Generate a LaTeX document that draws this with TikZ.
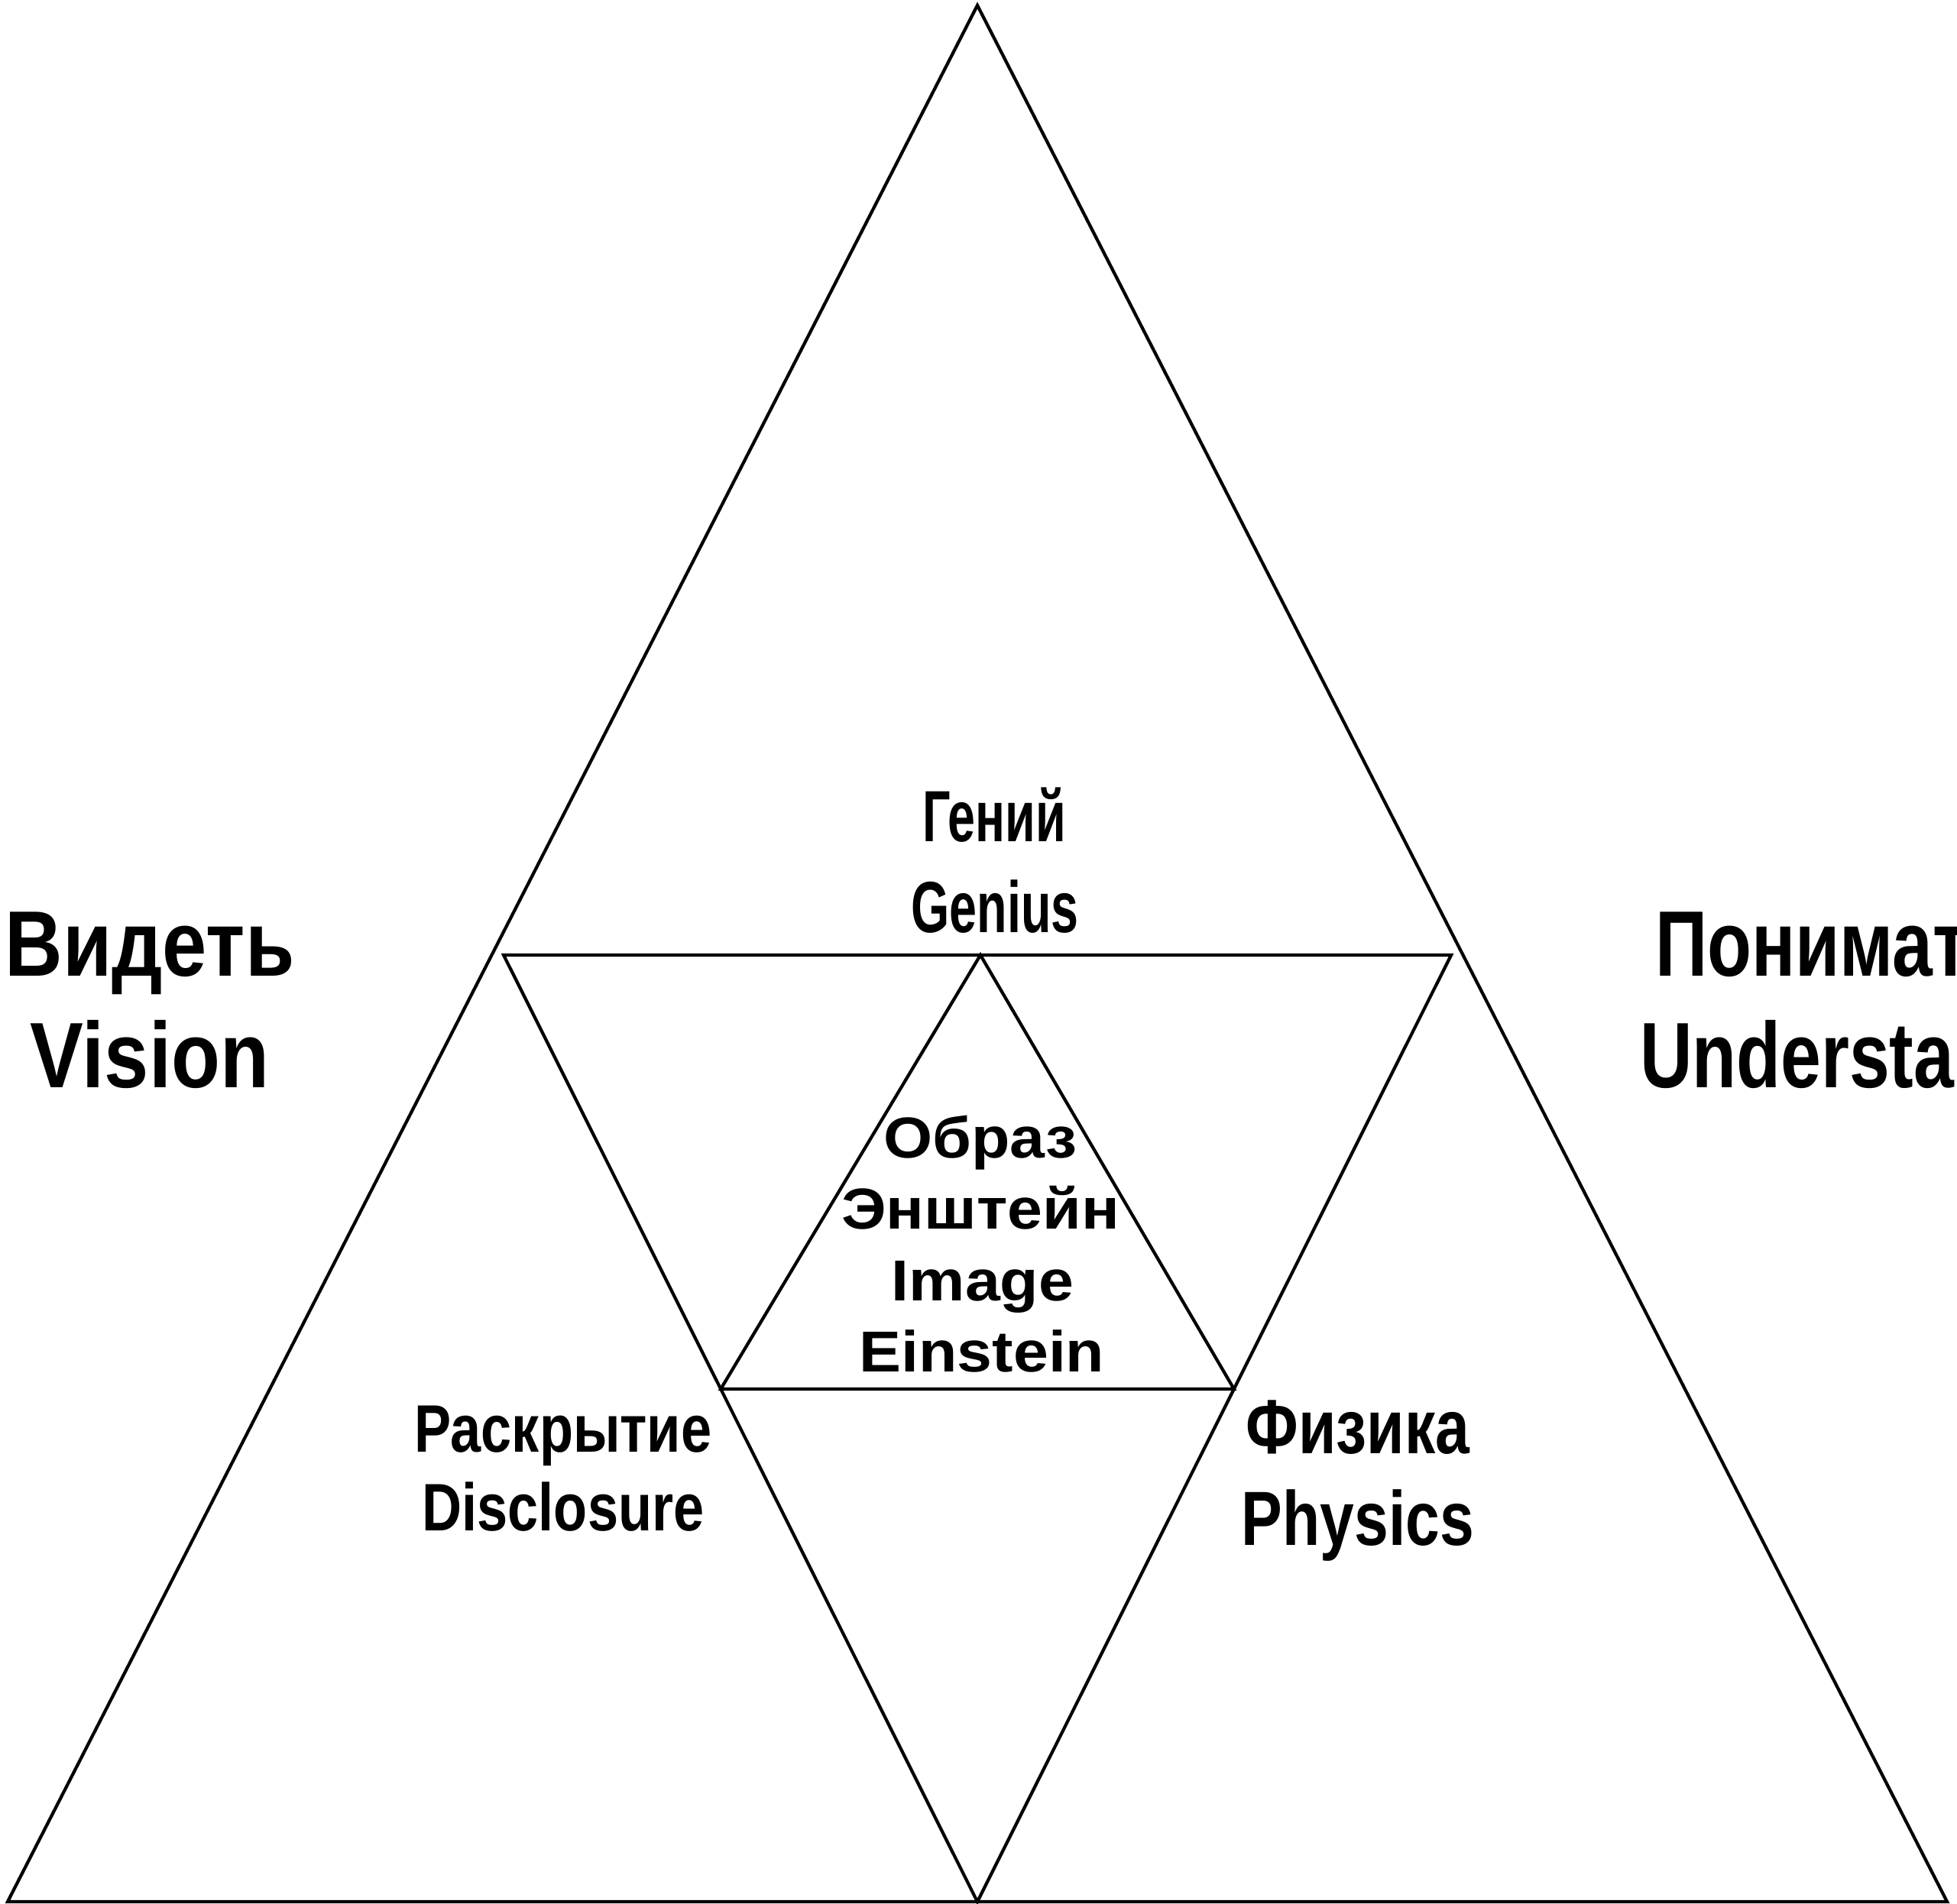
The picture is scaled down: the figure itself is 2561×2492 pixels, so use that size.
\documentclass[tikz,border=0pt]{standalone}
\usepackage{fontspec}
\usetikzlibrary{calc}
\setmainfont{Liberation Sans}
\newfontfamily\fvis{Liberation Sans}[FakeStretch=0.86]
\newfontfamily\fund{Liberation Sans}[FakeStretch=0.78]
\newfontfamily\fgen{Liberation Sans}[FakeStretch=0.68]
\newfontfamily\fdis{Liberation Sans}[FakeStretch=0.82]
\newfontfamily\fphy{Liberation Sans}[FakeStretch=0.80]
\newfontfamily\fimg{Liberation Sans}[FakeStretch=1.09]
\tikzset{
  edge/.style={draw=black, line width=1.2pt, line join=miter},
  lab/.style={inner sep=0pt, outer sep=0pt, anchor=base, text=black},
  big/.style={lab, font=\fvis\bfseries\fontsize{34.6pt}{40pt}\selectfont},
  und/.style={lab, font=\fund\bfseries\fontsize{34.6pt}{40pt}\selectfont},
  gen/.style={lab, font=\fgen\bfseries\fontsize{27pt}{32pt}\selectfont},
  dis/.style={lab, font=\fdis\bfseries\fontsize{25pt}{30pt}\selectfont},
  phy/.style={lab, font=\fphy\bfseries\fontsize{28.6pt}{33pt}\selectfont},
  img/.style={lab, font=\fimg\bfseries\fontsize{21.5pt}{26pt}\selectfont}
}
\begin{document}
\begin{tikzpicture}[x=0.01cm, y=-0.01cm]
\useasboundingbox (0,0) rectangle (2561,2492);
\clip (0,0) rectangle (2561,2492);
\fill[white] (0,0) rectangle (2561,2492);
% outer triangle
\coordinate (A) at (1279,7);
\coordinate (BL) at (10,2489);
\coordinate (BR) at (2548,2489);
\coordinate (BM) at (1279,2489);
% inverted triangle
\coordinate (L) at (659,1250);
\coordinate (R) at (1899,1250);
% inner triangle
\coordinate (IA) at (1283,1250);
\coordinate (IL) at ($(L)!0.4584!(BM)$);
\coordinate (IR) at ($(R)!0.4584!(BM)$);
\draw[edge] (A) -- (BL) -- (BR) -- cycle;
\draw[edge] (L) -- (R) -- (BM) -- cycle;
\draw[edge] (IA) -- (IL) -- (IR) -- cycle;
% labels
\node[big] (vid1) at (196,1277) {Видеть};
\node[big] (vid2) at (196,1423) {Vision};
\node[und, anchor=base west] (pon1) at (2166,1277) {Понимать};
\node[und, anchor=base west] (pon2) at (2146,1423) {Understanding};
\node[gen] (gen1) at (1301,1102) {Гений};
\node[gen] (gen2) at (1302,1220) {Genius};
\node[dis] (dis1) at (737,1900) {Раскрытие};
\node[dis] (dis2) at (737,2003) {Disclosure};
\node[phy] (phy1) at (1777,1902) {Физика};
\node[phy] (phy2) at (1777,2022) {Physics};
\node[img] (img1) at (1283,1515) {Образ};
\node[img] (img2) at (1283,1608) {Энштейн};
\node[img] (img3) at (1286,1702) {Image};
\node[img] (img4) at (1285,1795) {Einstein};
\end{tikzpicture}
\end{document}
